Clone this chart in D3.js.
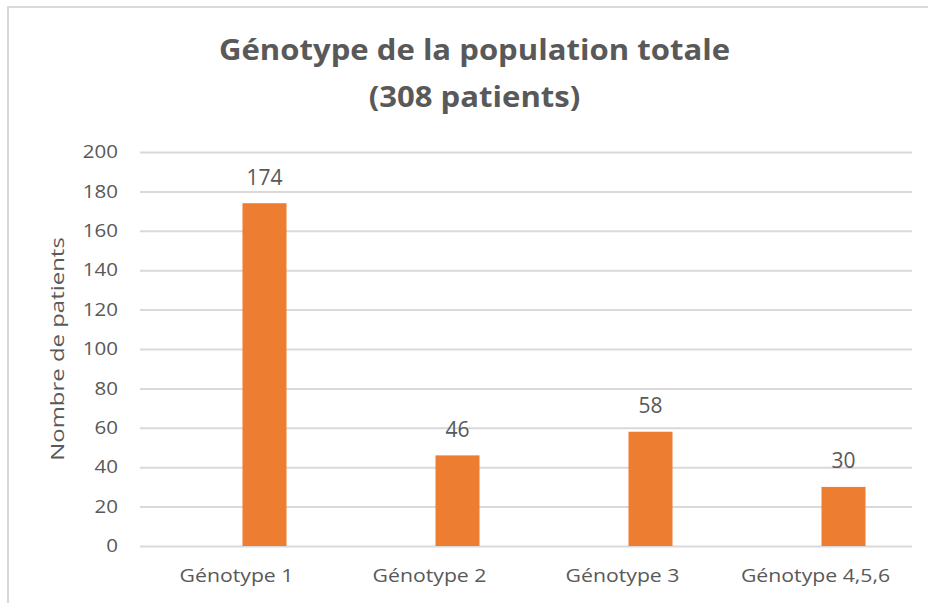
<!DOCTYPE html>
<html><head><meta charset="utf-8">
<script src="https://cdn.jsdelivr.net/npm/d3@7"></script>
<style>body{margin:0;background:#fff}svg{display:block}text{font-family:"Open Sans",Lato,sans-serif}</style>
</head><body>
<svg id="c" width="928" height="603"></svg>
<script>
const categories = ["Génotype 1", "Génotype 2", "Génotype 3", "Génotype 4,5,6"];
const seriesNames = ["", "Patients"];
const values = [174, 46, 58, 30];
const yTicks = [0, 20, 40, 60, 80, 100, 120, 140, 160, 180, 200];
const titleLines = ["Génotype de la population totale", "(308 patients)"];
const yTitle = "Nombre de patients";

const svg = d3.select("#c");
const textCol = "#595959";
svg.append("rect").attr("x", 8).attr("y", 7).attr("width", 940).attr("height", 620)
  .attr("fill", "#fff").attr("stroke", "#d9d9d9").attr("stroke-width", 2);

const m = {left: 140, right: 912, top: 152, bottom: 546};
const x = d3.scaleBand().domain(categories).range([m.left, m.right]);
const x1 = d3.scaleBand().domain(seriesNames).range([-38, 50]);
const y = d3.scaleLinear().domain([0, 200]).range([m.bottom, m.top]);

const tickStretch = 1.14;
const yAxis = d3.axisLeft(y).tickValues(yTicks).tickSize(-(m.right - m.left)).tickPadding(22);
const gy = svg.append("g").attr("transform", `translate(${m.left},0)`).call(yAxis);
gy.select(".domain").remove();
gy.selectAll(".tick line").attr("stroke", "#d9d9d9").attr("stroke-width", 2);
gy.selectAll(".tick text").attr("fill", textCol).attr("font-size", 18).attr("font-family", "'Open Sans'")
  .attr("x", -22 / tickStretch).attr("transform", `scale(${tickStretch},1)`);

const catStretch = 1.18;
const xAxis = d3.axisBottom(x).tickSize(0).tickPadding(24);
const gx = svg.append("g").attr("transform", `translate(0,${m.bottom})`).call(xAxis);
gx.select(".domain").remove();
gx.selectAll(".tick text").attr("fill", textCol).attr("font-size", 18).attr("font-family", "'Open Sans'")
  .attr("y", 36.5).attr("dy", "0").attr("transform", `scale(${catStretch},1)`);

svg.append("g").selectAll("rect").data(values).join("rect")
  .attr("x", (d, i) => x(categories[i]) + x.bandwidth() / 2 + x1("Patients"))
  .attr("width", x1.bandwidth())
  .attr("y", d => y(d))
  .attr("height", d => y(0) - y(d))
  .attr("fill", "#ed7d31");

svg.append("g").selectAll("text").data(values).join("text")
  .attr("x", (d, i) => x(categories[i]) + x.bandwidth() / 2 + x1("Patients") + x1.bandwidth() / 2)
  .attr("y", d => y(d) - 18.5)
  .attr("text-anchor", "middle").attr("fill", textCol).attr("font-size", 21)
  .text(d => d);

svg.append("text").attr("transform", "translate(63.5,349) rotate(-90) scale(1.26,1)")
  .attr("text-anchor", "middle").attr("fill", textCol).attr("font-size", 19)
  .text(yTitle);

svg.append("g").selectAll("text").data(titleLines).join("text")
  .attr("transform", (d, i) => `translate(474.5,${60 + i * 47}) scale(1.11,1)`)
  .attr("text-anchor", "middle").attr("fill", textCol).attr("font-size", 28).attr("font-weight", "bold")
  .text(d => d);
</script>
</body></html>
